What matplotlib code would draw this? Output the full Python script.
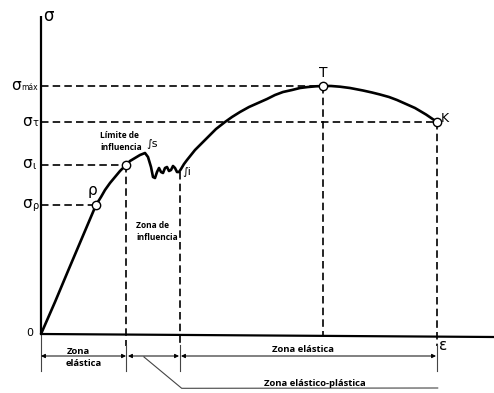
import matplotlib
matplotlib.use("Agg")
import matplotlib.pyplot as plt
from matplotlib import font_manager

# ---- data (strain, stress) (arbitrary units) ----
curve_eps = [0, 14, 27, 41, 55, 60, 64, 69, 74, 79, 85, 89, 94, 99, 104, 107, 110, 112, 114,
             116, 118, 120, 122, 124, 126, 128, 130, 132, 134, 136, 138, 140, 143, 146, 154,
             159, 167, 175, 184, 191, 199, 208, 217, 226, 234, 242, 251, 259, 267, 275, 282,
             290, 299, 309, 322, 331, 339, 348, 356, 365, 374, 385, 396]
curve_sig = [0, 32, 63, 96, 129, 137, 144, 151, 157, 163, 169, 173, 176, 179, 181, 177, 167,
             157, 156, 162, 166, 162, 161, 166, 167, 163, 164, 168, 166, 162, 162, 165, 170,
             174, 184, 189, 197, 205, 212, 217, 222, 227, 231, 235, 239, 242, 244, 246, 247,
             247.7, 248, 248, 247.3, 246, 243.5, 241.5, 239.5, 237, 234, 230, 226, 219.5, 212]

point_names = ["ρ", "ι", "T", "K"]
point_eps = [55, 85, 282, 396]
point_sig = [129, 169, 248, 212]

level_subs = ["máx", "τ", "ι", "ρ"]
level_sig = [248, 212, 169, 129]
level_eps = [282, 396, 85, 55]

zone_bounds = [0, 85, 139, 396]

names = {f.name for f in font_manager.fontManager.ttflist}
bold_fam = ["Liberation Sans Narrow", "Open Sans"] if "Liberation Sans Narrow" in names else ["Open Sans"]

fig = plt.figure(figsize=(4.94, 3.93), dpi=100)
ax = fig.add_axes([0, 0, 1, 1])
ax.set_xlim(-41, 453)
ax.set_ylim(-59, 334)
ax.axis("off")

K = "black"
dash = (0, (4.5, 2.5))

# axes
ax.plot([0, 0], [0, 318], color=K, lw=1.6, solid_capstyle="butt")
ax.plot([0, 453], [0, -3], color=K, lw=1.6, solid_capstyle="butt")

# horizontal dashed level lines
for s, e in zip(level_sig, level_eps):
    ax.plot([0, e], [s, s], color=K, lw=1.2, linestyle=dash)

# vertical dashed lines
ax.plot([85, 85], [169, -12], color=K, lw=1.2, linestyle=dash)
ax.plot([139, 139], [162, -12], color=K, lw=1.2, linestyle=dash)
ax.plot([282, 282], [248, -2], color=K, lw=1.2, linestyle=dash)
ax.plot([396, 396], [212, -12], color=K, lw=1.2, linestyle=dash)

# curve
ax.plot(curve_eps, curve_sig, color=K, lw=1.9, solid_joinstyle="round", solid_capstyle="round", zorder=3)
ax.plot(point_eps, point_sig, "o", ms=6, mfc="white", mec=K, mew=1.0, zorder=4)

# zone ticks and arrows
G = "#444444"
for b in zone_bounds:
    ax.plot([b, b], [-11 if b else 0, -37], color=G, lw=0.8)
arrow_y = -22
for a, b in [(0, 85), (87, 138), (140, 395)]:
    ax.annotate("", xy=(b, arrow_y), xytext=(a, arrow_y),
                arrowprops=dict(arrowstyle="<|-|>", color=K, lw=0.7,
                                mutation_scale=6, shrinkA=0, shrinkB=0))
ax.plot([103, 140.7, 396.7], [-23, -54.3, -54], color=G, lw=0.8)

# symbol labels
sfs = 11
ax.text(7, 318, "σ", fontsize=12, ha="center", va="center", family="DejaVu Sans")
ax.text(-20, 248, "σ", fontsize=sfs, ha="right", va="center", family="DejaVu Sans")
ax.text(-20, 246, "máx", fontsize=5.5, ha="left", va="center", family="DejaVu Sans")
for sub, s in zip(level_subs[1:], level_sig[1:]):
    ax.text(-9, s + 1, "σ", fontsize=sfs, ha="right", va="center", family="DejaVu Sans")
    ax.text(-9, s - 1, sub, fontsize=7, ha="left", va="center", family="DejaVu Sans")
ax.text(51, 144, "ρ", fontsize=11, ha="center", va="center", family="DejaVu Sans")
ax.text(282, 261, "T", fontsize=10, ha="center", va="center", family="DejaVu Sans")
ax.text(400, 215, "K", fontsize=9, ha="left", va="center", family="DejaVu Sans")
ax.text(-8, 1, "0", fontsize=8, ha="right", va="center", family="DejaVu Sans")
ax.text(402, -11, "ε", fontsize=11, ha="center", va="center", family="DejaVu Sans")
ax.text(105, 190, "∫s", fontsize=8, ha="left", va="center", family="DejaVu Sans")
ax.text(141, 162, "∫i", fontsize=8, ha="left", va="center", family="DejaVu Sans")

# word labels
skw = dict(fontsize=6.0, fontweight="bold", va="center", family=bold_fam)
ax.text(59, 198, "Límite de", ha="left", **skw)
ax.text(59, 187, "influencia", ha="left", **skw)
ax.text(95, 108, "Zona de", ha="left", **skw)
ax.text(95, 97, "influencia", ha="left", **skw)
bkw = dict(fontsize=6.8, fontweight="bold", va="center", family=bold_fam)
ax.text(26, -17, "Zona", ha="left", **bkw)
ax.text(25, -29, "elástica", ha="left", **bkw)
ax.text(262, -16, "Zona elástica", ha="center", **bkw)
ax.text(274, -49, "Zona elástico-plástica", ha="center", **bkw)

fig.savefig("out.png", dpi=100, facecolor="white")
